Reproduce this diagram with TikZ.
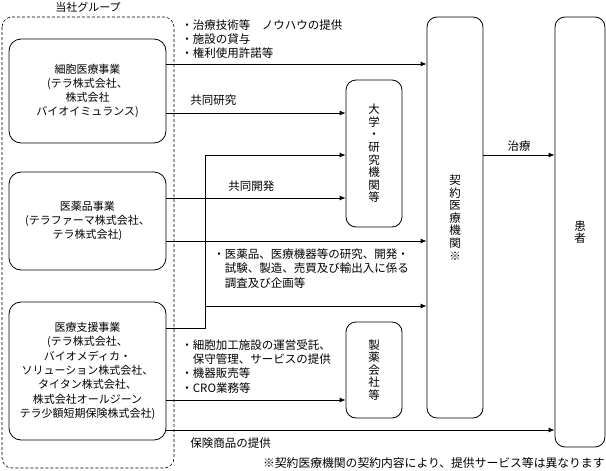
\documentclass[tikz,border=0pt]{standalone}
\usepackage{fontspec}
\setmainfont{Noto Sans CJK JP}
\usetikzlibrary{arrows.meta}

\begin{document}
\begin{tikzpicture}[x=1pt,y=-1pt,line join=round,>={Latex[length=6pt,width=5pt]},line width=0.8pt]
\tikzset{
  jp/.style={font=\fontsize{11}{14.3}\selectfont},
  bizbox/.style={draw,rounded corners=12pt,align=center,jp,inner sep=0pt},
  vbox/.style={draw,rounded corners=10pt,align=center,font=\fontsize{11.5}{12.6}\selectfont,inner sep=0pt},
  note/.style={font=\fontsize{11.5}{14.2}\selectfont,anchor=west,inner sep=0pt}
}
\useasboundingbox (0,0) rectangle (606,471);
% group
\draw[dash pattern=on 3pt off 2pt,rounded corners=10pt,line width=0.6pt] (2,17) rectangle (174,468);
\node[jp] (grptitle) at (88,7) {当社グループ};
% boxes
\node[bizbox,minimum width=157pt,minimum height=104pt] (cell) at (87.5,91) {細胞医療事業\\(テラ株式会社、\\株式会社\\バイオイミュランス)};
\node[bizbox,minimum width=157pt,minimum height=98pt] (pharma) at (87.5,221) {医薬品事業\\(テラファーマ株式会社、\\テラ株式会社)};
\node[bizbox,minimum width=157pt,minimum height=138pt] (support) at (87.5,371) {医療支援事業\\(テラ株式会社、\\バイオメディカ・\\ソリューション株式会社、\\タイタン株式会社、\\株式会社オールジーン\\テラ少額短期保険株式会社)};
\node[vbox,minimum width=56pt,minimum height=147pt] (univ) at (374,153.5) {大\\学\\・\\研\\究\\機\\関\\等};
\node[vbox,minimum width=56pt,minimum height=96pt] (maker) at (374,370) {製\\薬\\会\\社\\等};
\node[vbox,minimum width=56pt,minimum height=401pt] (clinic) at (455,217.5) {契\\約\\医\\療\\機\\関\\※};
\node[vbox,minimum width=50pt,minimum height=430pt] (patient) at (580,232) {患\\者};
% connectors
\coordinate (jn) at (205,328);
\draw[->] (cell.east |- 0,64) -- (clinic.west |- 0,64);
\draw[->] (cell.east |- 0,113) -- (univ.west |- 0,113);
\draw[->] (pharma.east |- 0,198) -- (univ.west |- 0,198);
\draw[->] (pharma.east |- 0,241) -- (clinic.west |- 0,241);
\draw[->] (support.east |- jn) -- (jn) -- (jn |- 0,155) -- (univ.west |- 0,155);
\draw[->] (jn |- 0,306) -- (clinic.west |- 0,306);
\draw[->] (support.east |- 0,400) -- (maker.west |- 0,400);
\draw[->] (support.east |- 0,430) -- (patient.west |- 0,430);
\draw[->] (clinic.east |- 0,155) -- (patient.west |- 0,155);
% labels
\node[note,align=left] (knowhow) at (181,39) {・治療技術等　ノウハウの提供\\・施設の貸与\\・権利使用許諾等};
\node[note] (joint1) at (190,100) {共同研究};
\node[note] (joint2) at (228,186) {共同開発};
\node[note,anchor=center] (cure) at (519,146) {治療};
\node[note] (rnd) at (213,270) {\begin{tabular}{@{}l@{}l@{}}・&医薬品、医療機器等の研究、開発・\\&試験、製造、売買及び輸出入に係る\\&調査及び企画等\end{tabular}};
\node[note] (service) at (181,368) {\begin{tabular}{@{}l@{}l@{}}・&細胞加工施設の運営受託、\\&保守管理、サービスの提供\\・&機器販売等\\・&CRO業務等\end{tabular}};
\node[note] (insure) at (190,443) {保険商品の提供};
\node[note,anchor=east,font=\fontsize{11.8}{14}\selectfont] (footnote) at (605,463) {※契約医療機関の契約内容により、提供サービス等は異なります};
\end{tikzpicture}
\end{document}
